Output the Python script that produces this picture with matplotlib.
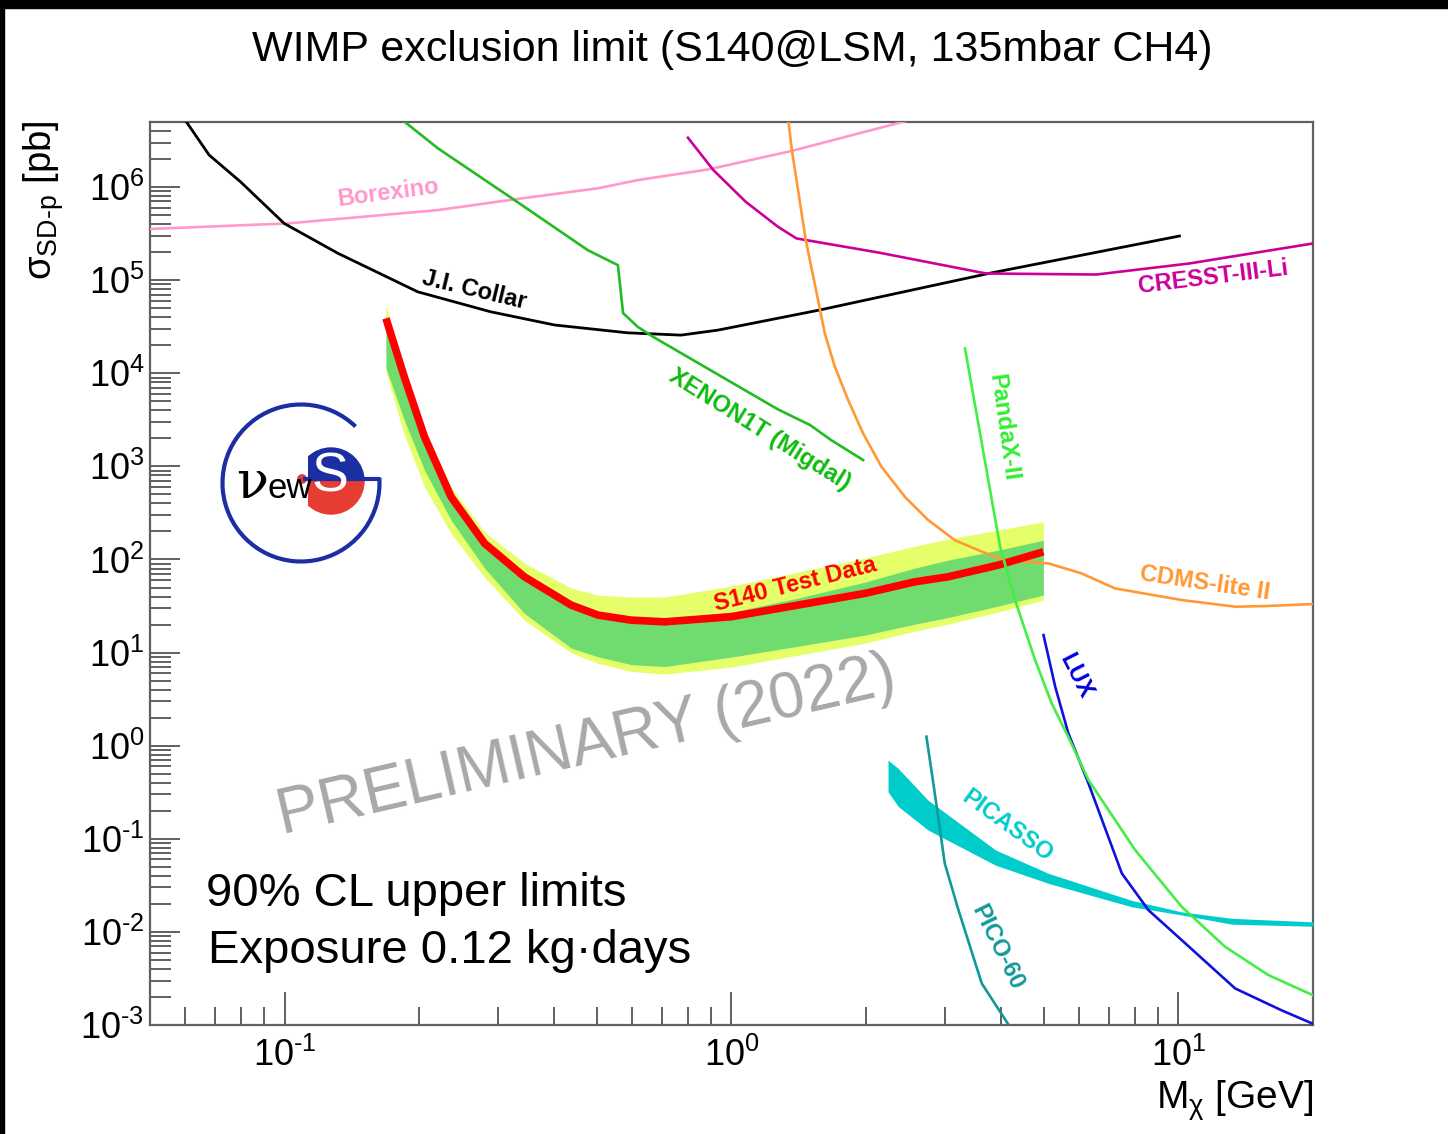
import matplotlib
matplotlib.use("Agg")
import matplotlib.pyplot as plt
from matplotlib import font_manager
from matplotlib.patches import Arc, Wedge, Rectangle, Circle
from matplotlib.ticker import FixedLocator, FixedFormatter, LogLocator, NullFormatter

# ---------------------------------------------------------------- data
# WIMP mass [GeV] and spin-dependent WIMP-proton cross section [pb]

s140_mass = [0.1686, 0.1853, 0.2056, 0.2358, 0.2802, 0.344, 0.4377, 0.5023, 0.5965,
             0.7087, 1.0, 1.409, 1.987, 2.572, 3.054, 3.954, 4.986]
s140_limit = [3.89e4, 9.16e3, 2.08e3, 471, 149, 65.2, 32.4, 25.3, 22.3,
              21.4, 24.3, 32.4, 43.2, 57.6, 65.2, 87.1, 121]
# expected-sensitivity bands on the same mass grid
band2_hi = [5.40e4, 1.14e4, 2576, 600, 197, 91.4, 49.3, 41.5, 39.5,
            39.5, 51.8, 73.2, 103.5, 139, 166, 207, 254]
band1_hi = [3.89e4, 9160, 2080, 471, 149, 65.2, 32.4, 25.9, 23.5,
            22.9, 27.2, 38.5, 57.1, 80.8, 98.6, 126, 161]
band1_lo = [1.14e4, 3140, 912, 265, 80.8, 26.4, 11.2, 9.02, 7.43,
            7.08, 8.95, 11.7, 15.4, 20.2, 23.8, 31.6, 41.5]
band2_lo = [1.03e4, 2183, 604, 190.6, 64.2, 22.3, 9.97, 7.66, 6.27,
            5.88, 6.99, 9.39, 12.6, 17.0, 20.2, 27.2, 36.6]

collar_mass = [0.0600, 0.0678, 0.0797, 0.0998, 0.1315, 0.1986, 0.289, 0.402, 0.586,
               0.771, 0.933, 1.574, 3.79, 10.05]
collar_limit = [5.2e6, 2.21e6, 1.14e6, 4.07e5, 1.95e5, 7.5e4, 4.58e4, 3.3e4, 2.72e4,
                2.57e4, 2.91e4, 4.78e4, 1.19e5, 2.98e5]

borexino_mass = [0.05, 0.1016, 0.2203, 0.327, 0.502, 0.618, 0.889, 1.366, 2.45]
borexino_limit = [3.55e5, 4.07e5, 5.66e5, 7.38e5, 9.7e5, 1.19e6, 1.55e6, 2.45e6, 5.1e6]

xenon_mass = [0.1840, 0.2203, 0.327, 0.477, 0.557, 0.572, 0.617, 0.667, 1.271, 1.499,
              1.67, 1.97]
xenon_limit = [5.2e6, 2.61e6, 7.25e5, 2.1e5, 1.45e5, 4.43e4, 3.15e4, 2.47e4, 4.09e3,
               2.78e3, 1.92e3, 1.17e3]

cresst_mass = [0.799, 0.911, 1.076, 1.27, 1.397, 2.145, 3.71, 6.55, 10.56, 20.0]
cresst_limit = [3.39e6, 1.52e6, 6.95e5, 3.75e5, 2.81e5, 1.97e5, 1.18e5, 1.15e5, 1.51e5, 2.48e5]

cdms_mass = [1.340, 1.365, 1.466, 1.562, 1.617, 1.703, 1.824, 1.970, 2.165, 2.443, 2.755,
             3.16, 3.566, 3.954, 4.54, 5.12, 6.07, 7.21, 10.17, 13.39, 15.63, 20.0]
cdms_limit = [5.2e6, 2.49e6, 2.7e5, 6.11e4, 2.68e4, 1.175e4, 5.15e3, 2.26e3, 991, 471, 265,
              161, 126, 103, 94.4, 90.7, 70.9, 48.9, 36.7, 31.1, 31.6, 33.2]

pandax_mass = [3.33, 3.99, 4.31, 4.78, 5.20, 5.67, 6.29, 8.0, 10.17, 12.72, 15.9, 20.0]
pandax_limit = [1.85e4, 137, 36.6, 8.3, 2.87, 1.24, 0.428, 0.0757, 0.0186, 0.00692,
                0.00343, 0.00209]

lux_mass = [4.99, 5.30, 5.67, 6.29, 7.47, 8.57, 10.17, 13.39, 17.0, 20.0]
lux_limit = [15.4, 4.3, 1.36, 0.394, 0.0425, 0.0171, 0.00816, 0.00247, 0.00144, 0.00103]

pico_mass = [2.73, 2.85, 3.00, 3.22, 3.63, 4.20]
pico_limit = [1.25, 0.308, 0.0545, 0.0171, 0.0028, 0.00095]

picasso_mass = [2.24, 2.36, 2.75, 3.9, 5.12, 7.86, 10.17, 13.16, 20.0]
picasso_hi = [0.70, 0.570, 0.261, 0.0757, 0.0425, 0.0218, 0.0164, 0.0140, 0.0128]
picasso_lo = [0.320, 0.223, 0.1245, 0.052, 0.0332, 0.0186, 0.0152, 0.0121, 0.0115]

y_exponents = [-3, -2, -1, 0, 1, 2, 3, 4, 5, 6]
x_exponents = [-1, 0, 1]

# ---------------------------------------------------------------- fonts
def pick_font(names):
    for n in names:
        try:
            font_manager.findfont(font_manager.FontProperties(family=n),
                                  fallback_to_default=False)
            return n
        except Exception:
            pass
    return "DejaVu Sans"

SANS = pick_font(["Liberation Sans", "Arial", "Helvetica"])
plt.rcParams["font.family"] = [SANS, "DejaVu Sans"]
plt.rcParams["mathtext.fontset"] = "custom"
plt.rcParams["mathtext.rm"] = SANS
plt.rcParams["mathtext.it"] = SANS + ":italic"
plt.rcParams["mathtext.bf"] = SANS + ":bold"


def power_label(e):
    # ROOT-style power of ten, short hyphen for negative exponents
    s = str(e).replace("-", "\u2010")
    return "$10^{%s}$" % s


# ---------------------------------------------------------------- figure
W, H = 1448, 1134
fig = plt.figure(figsize=(W / 100, H / 100), dpi=100)
fig.patch.set_facecolor("white")


def P(x, y):
    """pixel position (from top-left) -> figure fraction"""
    return x / W, 1 - y / H


# thin black frame strips along the top and left edges
fig.patches.append(Rectangle((0, 1 - 8 / H), 1, 8 / H, transform=fig.transFigure,
                             color="black", zorder=0))
fig.patches.append(Rectangle((0, 0), 4 / W, 1, transform=fig.transFigure,
                             color="black", zorder=0))

ax_l, ax_r, ax_t, ax_b = 150, 1313, 122, 1025
ax = fig.add_axes([ax_l / W, 1 - ax_b / H, (ax_r - ax_l) / W, (ax_b - ax_t) / H])
ax.set_xscale("log")
ax.set_yscale("log")
ax.set_xlim(0.05, 20)
ax.set_ylim(1e-3, 5e6)

frame = "#606060"
for s in ax.spines.values():
    s.set_color(frame)
    s.set_linewidth(1.6)

ax.yaxis.set_major_locator(FixedLocator([10.0 ** e for e in y_exponents]))
ax.yaxis.set_major_formatter(FixedFormatter([power_label(e) for e in y_exponents]))
ax.yaxis.set_minor_locator(LogLocator(base=10, subs=range(2, 10), numticks=30))
ax.yaxis.set_minor_formatter(NullFormatter())
ax.xaxis.set_major_locator(FixedLocator([10.0 ** e for e in x_exponents]))
ax.xaxis.set_major_formatter(FixedFormatter([power_label(e) for e in x_exponents]))
ax.xaxis.set_minor_locator(LogLocator(base=10, subs=range(2, 10), numticks=30))
ax.xaxis.set_minor_formatter(NullFormatter())

ax.tick_params(which="both", direction="in", top=False, right=False,
               color=frame, width=1.4, labelsize=26, labelcolor="black")
ax.tick_params(axis="y", which="major", length=21.5, pad=4)
ax.tick_params(axis="y", which="minor", length=15)
ax.tick_params(axis="x", which="major", length=24, pad=9)
ax.tick_params(axis="x", which="minor", length=13)

# ---------------------------------------------------------------- S140 result
ax.fill_between(s140_mass, band2_lo, band2_hi, color="#e4ff6a", lw=0, zorder=1)
ax.fill_between(s140_mass, band1_lo, band1_hi, color="#70dc70", lw=0, zorder=2)

# ---------------------------------------------------------------- other experiments
lw = 1.9
ax.plot(borexino_mass, borexino_limit, color="#ff99cc", lw=lw, zorder=3)
ax.plot(collar_mass, collar_limit, color="black", lw=2.0, zorder=3)
ax.plot(xenon_mass, xenon_limit, color="#22bb22", lw=lw, zorder=3)
ax.plot(cresst_mass, cresst_limit, color="#cc0099", lw=lw, zorder=3)
ax.plot(cdms_mass, cdms_limit, color="#ff9933", lw=lw, zorder=4)
ax.fill_between(picasso_mass, picasso_lo, picasso_hi, color="#00cccc", lw=0, zorder=3)
ax.plot(pico_mass, pico_limit, color="#119999", lw=lw, zorder=4)
ax.plot(lux_mass, lux_limit, color="#1111dd", lw=lw, zorder=4)
ax.plot(s140_mass, s140_limit, color="#ff0000", lw=5.5, solid_capstyle="butt", zorder=5)
ax.plot(pandax_mass, pandax_limit, color="#44ee44", lw=lw, zorder=6)

# ---------------------------------------------------------------- curve labels
def label(txt, x, y, rot, color, size=17):
    fig.text(*P(x, y), txt, rotation=rot, rotation_mode="anchor", ha="center",
             va="center", color=color, fontsize=size, fontweight="bold")

label("Borexino", 388, 193, 7.5, "#ff99cc")
label("J.I. Collar", 474, 290, -13.5, "black")
label("XENON1T (Migdal)", 760, 430, -32, "#11bb11")
label("CRESST-III-Li", 1213, 277, 7, "#cc0099")
label("PandaX-II", 1003, 428, -82, "#33ee33")
label("CDMS-lite II", 1205, 583, -8.5, "#ff9933")
label("S140 Test Data", 795, 585, 14, "#ff0000", 17)
label("LUX", 1076, 676, -63, "#0000dd")
label("PICASSO", 1007, 826, -36, "#00cccc")
label("PICO-60", 997, 947, -64, "#119999")

fig.text(*P(282, 834), "PRELIMINARY (2022)", rotation=13, rotation_mode="anchor",
         ha="left", va="baseline", color="#a8a8aa", fontsize=46)
fig.text(*P(206, 906), "90% CL upper limits", ha="left", va="baseline",
         fontsize=34, color="black")
fig.text(*P(208, 963), "Exposure 0.12 kg\u00b7days", ha="left", va="baseline",
         fontsize=34, color="black")

# ---------------------------------------------------------------- titles
fig.text(*P(732, 61), "WIMP exclusion limit (S140@LSM, 135mbar CH4)", ha="center",
         va="baseline", fontsize=31)
fig.text(*P(44, 120), "$\\mathrm{\\sigma_{SD\u2010p}}$ [pb]", rotation=90,
         ha="center", va="top", fontsize=27.5)
fig.text(*P(1313, 1078), "M$_{\\mathrm{\\chi}}$ [GeV]", ha="right", va="top",
         fontsize=28)

# ---------------------------------------------------------------- logo
lx0, lx1, ly0, ly1 = 212, 392, 398, 568
lax = fig.add_axes([lx0 / W, 1 - ly1 / H, (lx1 - lx0) / W, (ly1 - ly0) / H])
lax.set_xlim(lx0, lx1)
lax.set_ylim(ly1, ly0)
lax.axis("off")
lax.patch.set_alpha(0)
blue, red = "#1b2fa3", "#e63c32"
lax.add_patch(Arc((301, 483), 157, 157, theta1=-4, theta2=314, color=blue, lw=3.0))
lax.plot([303, 380], [479, 479], color=blue, lw=3.0, solid_capstyle="butt")
clip = Rectangle((308, 430), 120, 120, transform=lax.transData)
top = Wedge((331, 481), 33, 180, 360, color=blue)
bot = Wedge((331, 481), 33, 0, 180, color=red)
for wdg in (top, bot):
    lax.add_patch(wdg)
    wdg.set_clip_path(clip)
lax.text(330, 478, "S", color="white", fontsize=40, ha="center", va="center")
lax.add_patch(Circle((302, 479), 4.2, color=red))
lax.text(252, 484, "\u03bd", fontsize=38, family="DejaVu Serif",
         ha="center", va="center", color="black")
lax.text(290, 489, "ew", fontsize=25, ha="center", va="center", color="black")

fig.savefig("out.png", dpi=100, facecolor="white")
